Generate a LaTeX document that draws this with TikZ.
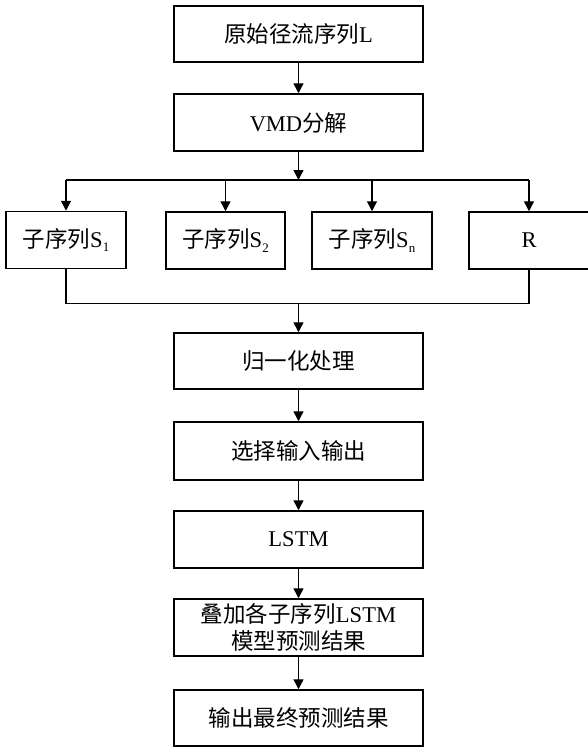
\documentclass[tikz,border=0pt]{standalone}
\usepackage{fontspec}
\setmainfont{Liberation Serif}
\newfontfamily\cjk{Noto Sans CJK SC}
\usetikzlibrary{arrows.meta}
\newcommand{\subidx}[1]{\raisebox{-0.22em}{\fontsize{13}{13}\selectfont #1}}
\begin{document}
\begin{tikzpicture}[x=1pt,y=-1pt,
  box/.style={draw,line width=1.5pt,minimum height=57pt,inner sep=0pt,align=center,
    font=\fontsize{22.5}{27}\selectfont},
  wide/.style={box,minimum width=249pt},
  small/.style={box,minimum width=120pt},
  link/.style={line width=1.4pt},
  arr/.style={link,-{Triangle[width=10pt,length=10pt]}}]
\useasboundingbox (0,0) rectangle (587,747);
\node[wide,minimum height=56pt] (b1) at (298.5,34) {{\cjk 原始径流序列}L};
\node[wide] (b2) at (298.5,122.5) {VMD{\cjk 分解}};
\node[small] (s1) at (66,240) {{\cjk 子序列}S\subidx{1}};
\node[small,minimum width=119pt] (s2) at (225.5,240.5) {{\cjk 子序列}S\subidx{2}};
\node[small] (sn) at (372,240.5) {{\cjk 子序列}S\subidx{n}};
\node[small] (r) at (529,240.5) {R};
\node[wide,minimum height=56pt] (g) at (298.5,361) {\cjk 归一化处理};
\node[wide,minimum height=58pt] (x) at (298.5,451) {\cjk 选择输入输出};
\node[wide] (l) at (298.5,539.5) {LSTM};
\node[wide] (d) at (298.5,627.5) {{\cjk 叠加各子序列}LSTM\\{\cjk 模型预测结果}};
\node[wide,minimum height=56pt] (o) at (298.5,718) {\cjk 输出最终预测结果};
\coordinate (sp) at (298.5,180);
\coordinate (mg) at (298.5,303.5);
\draw[arr] (b1) -- (b2);
\draw[arr] (b2) -- (sp);
\draw[link] (s1.north |- sp) -- (r.north |- sp);
\draw[arr] (s1.north |- sp) -- (s1.north);
\draw[arr] (s2.north |- sp) -- (s2.north);
\draw[arr] (sn.north |- sp) -- (sn.north);
\draw[arr] (r.north |- sp) -- (r.north);
\draw[link] (s1.south) -- (s1.south |- mg) -- (r.south |- mg) -- (r.south);
\draw[arr] (mg) -- (g.north);
\draw[arr] (g) -- (x);
\draw[arr] (x) -- (l);
\draw[arr] (l) -- (d);
\draw[arr] (d) -- (o);
\end{tikzpicture}
\end{document}
